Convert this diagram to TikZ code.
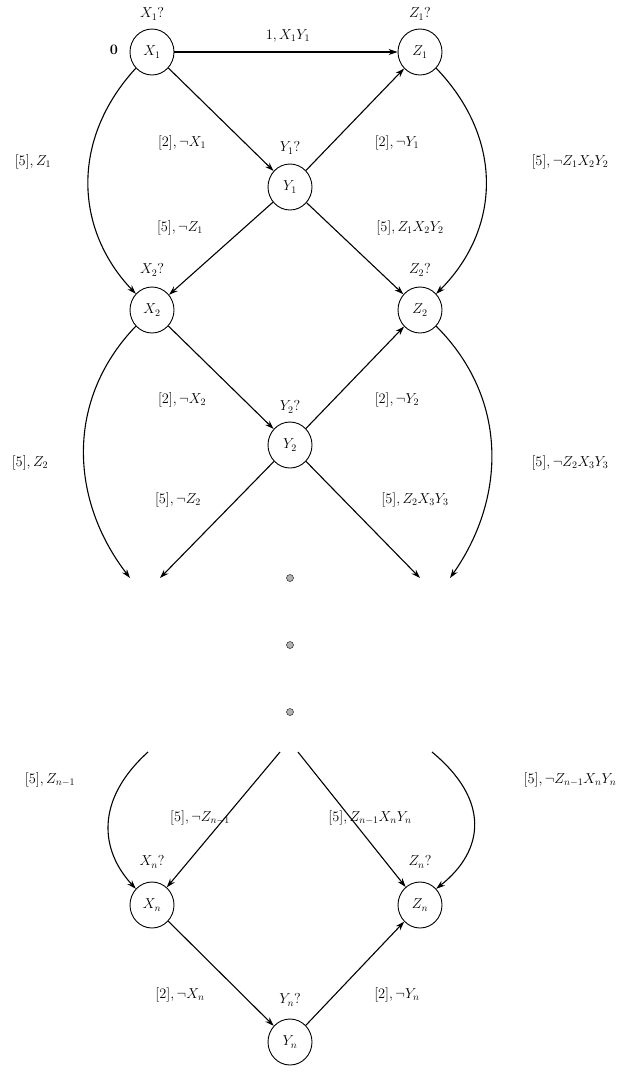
\documentclass[tikz,border=0pt]{standalone}
\usetikzlibrary{arrows.meta}
\begin{document}
\begin{tikzpicture}[x=1pt,y=-1pt,
  st/.style={draw,ellipse,minimum width=44pt,minimum height=46pt,inner sep=0pt,line width=0.9pt,font=\Large},
  lb/.style={font=\Large,inner sep=1pt},
  ar/.style={line width=1.1pt,-{Stealth[length=9pt,width=6pt]}},
  ln/.style={line width=1.1pt},
  dt/.style={circle,draw,fill=gray!60,minimum size=7pt,inner sep=0pt}]
\useasboundingbox (0,0) rectangle (640,1088);
\usetikzlibrary{shapes.geometric}
\node[st] (X1) at (152,52) {$X_1$};
\node[st] (Z1) at (420,52) {$Z_1$};
\node[st] (Y1) at (290,187) {$Y_1$};
\node[st] (X2) at (152,310) {$X_2$};
\node[st] (Z2) at (420,310) {$Z_2$};
\node[st] (Y2) at (290,445) {$Y_2$};
\node[st] (Xn) at (152,905) {$X_n$};
\node[st] (Zn) at (420,905) {$Z_n$};
\node[st] (Yn) at (290,1042) {$Y_n$};
\node[dt] (d1) at (290,578) {};
\node[dt] (d2) at (290,645) {};
\node[dt] (d3) at (290,712) {};
\coordinate (a1) at (130,578);
\coordinate (a2) at (160,578);
\coordinate (a3) at (420,578);
\coordinate (a4) at (450,578);
\coordinate (b1) at (148,752);
\coordinate (b2) at (280,752);
\coordinate (b3) at (298,752);
\coordinate (b4) at (432,752);
% node top labels
\node[lb] (lX1) at (152,14) {$X_1?$};
\node[lb] (lZ1) at (420,14) {$Z_1?$};
\node[lb] (lY1) at (290,148) {$Y_1?$};
\node[lb] (lX2) at (152,270) {$X_2?$};
\node[lb] (lZ2) at (420,270) {$Z_2?$};
\node[lb] (lY2) at (290,407) {$Y_2?$};
\node[lb] (lXn) at (152,862) {$X_n?$};
\node[lb] (lZn) at (420,862) {$Z_n?$};
\node[lb] (lYn) at (290,1000) {$Y_n?$};
\node[lb] (zero) at (114,50) {$\mathbf{0}$};
% edges
\draw[ar] (X1) -- (Z1);
\draw[ar] (X1) -- (Y1);
\draw[ar] (Y1) -- (Z1);
\draw[ar] (Y1) -- (X2);
\draw[ar] (Y1) -- (Z2);
\draw[ar] (X1.225) .. controls (70,140) and (75,230) .. (X2.135);
\draw[ar] (Z1.315) .. controls (505,140) and (500,230) .. (Z2.45);
\draw[ar] (X2) -- (Y2);
\draw[ar] (Y2) -- (Z2);
\draw[ar] (Y2) -- (a2);
\draw[ar] (Y2) -- (a3);
\draw[ar] (X2.225) .. controls (65,400) and (70,500) .. (a1);
\draw[ar] (Z2.315) .. controls (510,400) and (505,500) .. (a4);
\draw[ar] (b1) .. controls (95,800) and (100,850) .. (Xn.135);
\draw[ar] (b2) -- (Xn);
\draw[ar] (b3) -- (Zn);
\draw[ar] (b4) .. controls (490,800) and (485,850) .. (Zn.45);
\draw[ar] (Xn) -- (Yn);
\draw[ar] (Yn) -- (Zn);
% edge labels
\node[lb] (e1) at (288,36) {$1,X_1Y_1$};
\node[lb] (e2) at (33,162) {$[5],Z_1$};
\node[lb] (e3) at (182,143) {$[2],\neg X_1$};
\node[lb] (e4) at (397,143) {$[2],\neg Y_1$};
\node[lb] (e5) at (570,162) {$[5],\neg Z_1X_2Y_2$};
\node[lb] (e6) at (180,228) {$[5],\neg Z_1$};
\node[lb] (e7) at (410,228) {$[5],Z_1X_2Y_2$};
\node[lb] (e8) at (182,400) {$[2],\neg X_2$};
\node[lb] (e9) at (397,400) {$[2],\neg Y_2$};
\node[lb] (e10) at (30,463) {$[5],Z_2$};
\node[lb] (e11) at (570,463) {$[5],\neg Z_2X_3Y_3$};
\node[lb] (e12) at (178,500) {$[5],\neg Z_2$};
\node[lb] (e13) at (415,500) {$[5],Z_2X_3Y_3$};
\node[lb] (e14) at (50,780) {$[5],Z_{n-1}$};
\node[lb] (e15) at (200,818) {$[5],\neg Z_{n-1}$};
\node[lb] (e16) at (370,818) {$[5],Z_{n-1}X_nY_n$};
\node[lb] (e17) at (570,780) {$[5],\neg Z_{n-1}X_nY_n$};
\node[lb] (e18) at (180,995) {$[2],\neg X_n$};
\node[lb] (e19) at (397,995) {$[2],\neg Y_n$};
\end{tikzpicture}
\end{document}
